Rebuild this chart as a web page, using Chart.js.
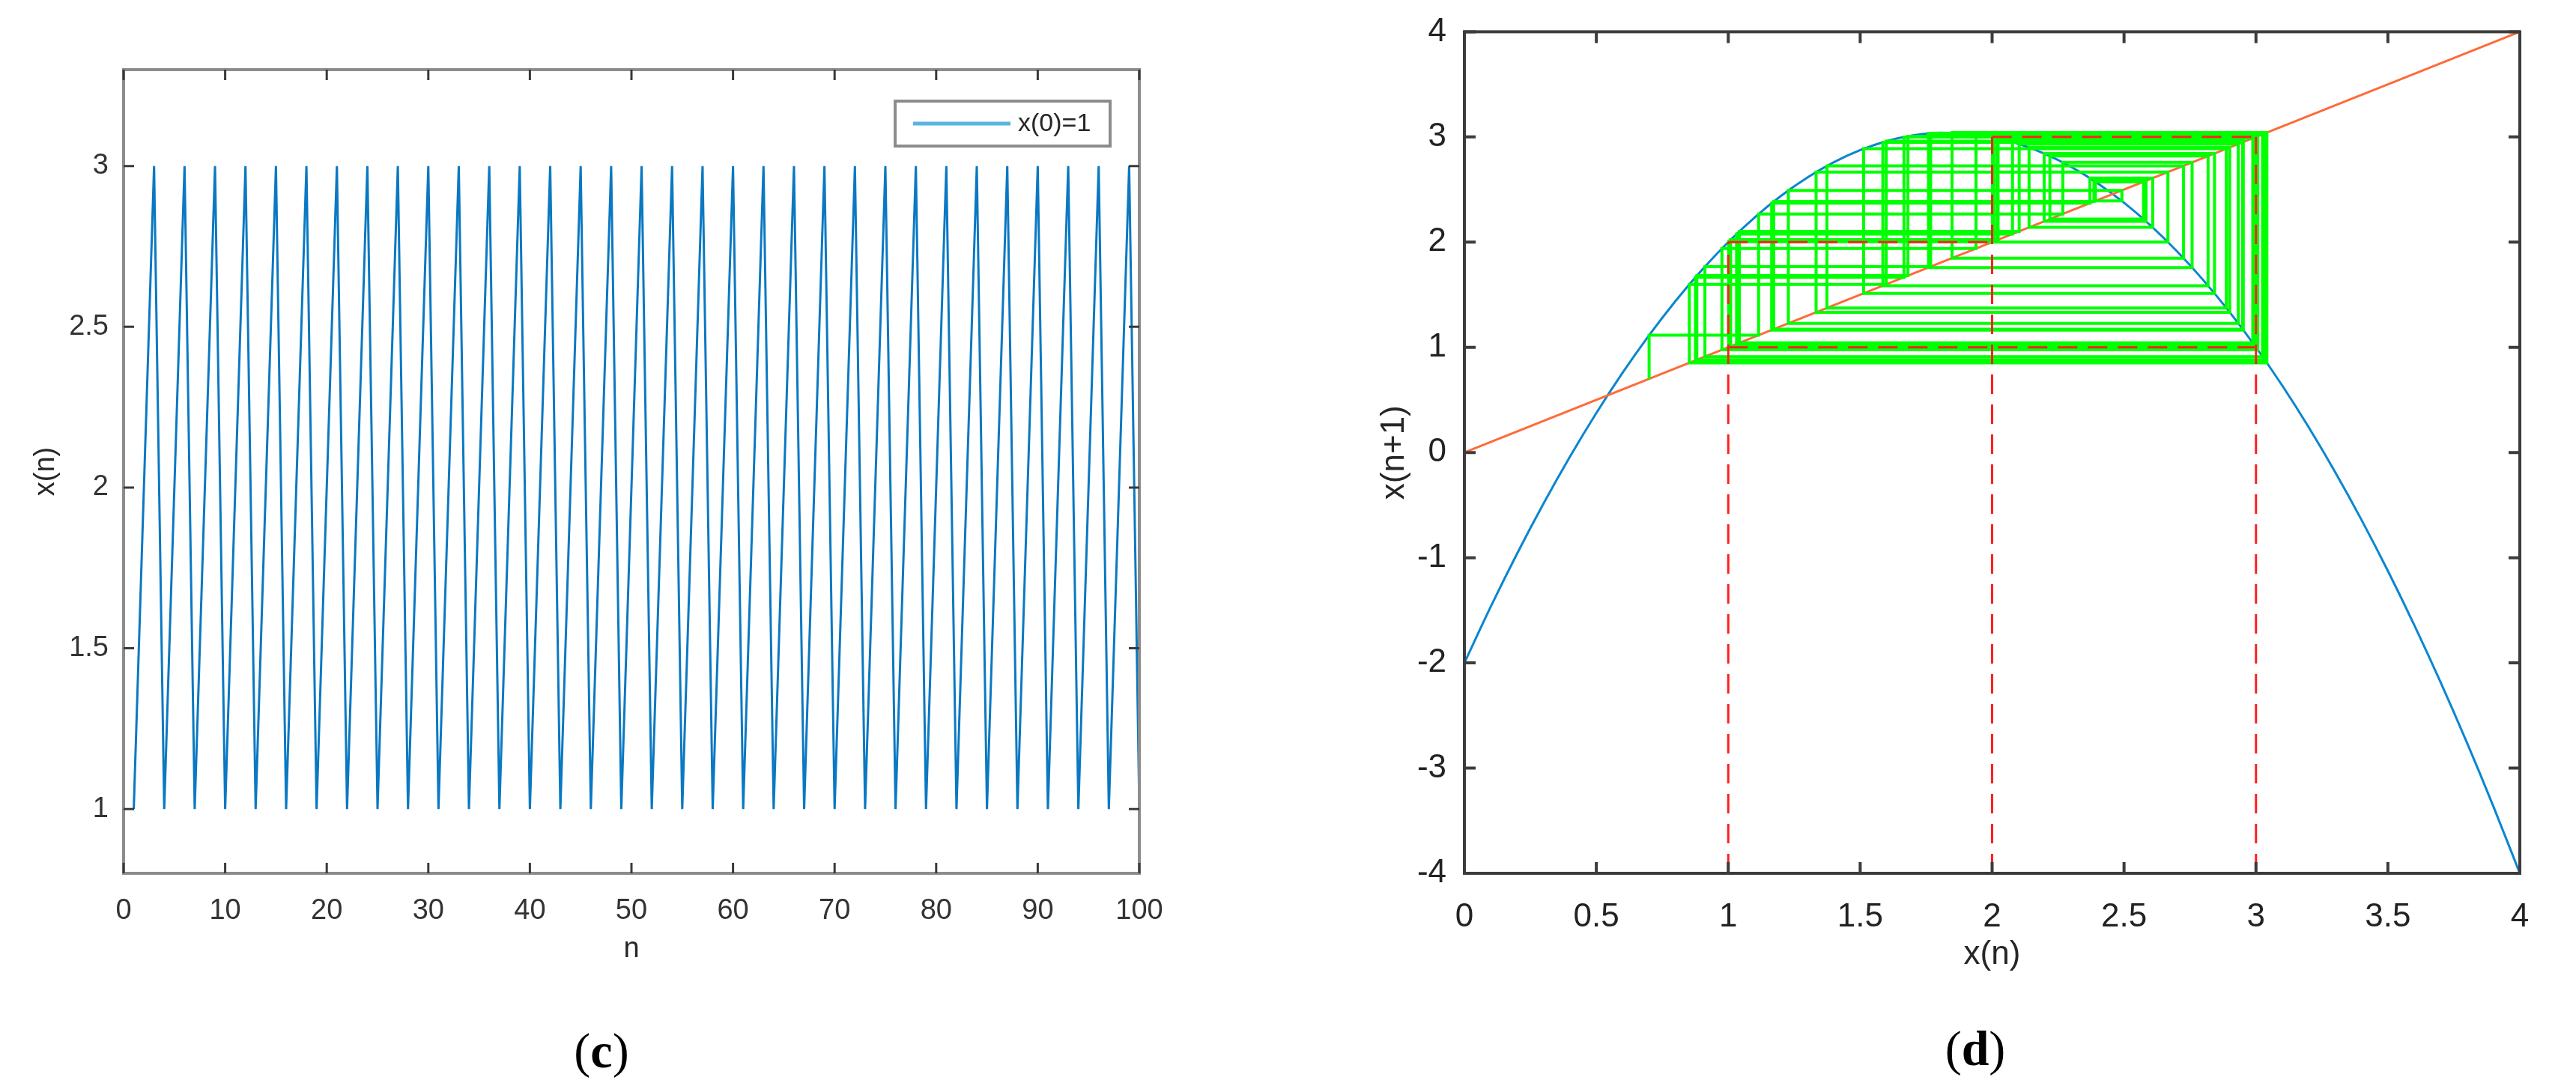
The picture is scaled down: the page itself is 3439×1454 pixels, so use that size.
<!DOCTYPE html>
<html><head><meta charset="utf-8">
<script src="https://cdn.jsdelivr.net/npm/chart.js@4/dist/chart.umd.min.js"></script>
<style>
html,body{margin:0;padding:0;background:#fff;width:3439px;height:1454px;overflow:hidden;position:relative}
canvas{position:absolute}
.cap{position:absolute;font-family:"Liberation Serif","DejaVu Serif",serif;font-size:66px;color:#000;transform:translate(-50%,-50%)}
.cap b{font-weight:bold}
</style></head><body>
<canvas id="c1" style="left:0;top:0;width:1600px;height:1300px"></canvas>
<canvas id="c2" style="left:1750px;top:0;width:1689px;height:1300px"></canvas>
<div class="cap" style="left:803px;top:1403px">(<b>c</b>)</div>
<div class="cap" style="left:2637px;top:1400px">(<b>d</b>)</div>
<script>
// ---- data ----
const seriesN = [1,2,3,4,5,6,7,8,9,10,11,12,13,14,15,16,17,18,19,20,21,22,23,24,25,26,27,28,29,30,31,32,33,34,35,36,37,38,39,40,41,42,43,44,45,46,47,48,49,50,51,52,53,54,55,56,57,58,59,60,61,62,63,64,65,66,67,68,69,70,71,72,73,74,75,76,77,78,79,80,81,82,83,84,85,86,87,88,89,90,91,92,93,94,95,96,97,98,99,100];
const seriesX = [1,2,3,1,2,3,1,2,3,1,2,3,1,2,3,1,2,3,1,2,3,1,2,3,1,2,3,1,2,3,1,2,3,1,2,3,1,2,3,1,2,3,1,2,3,1,2,3,1,2,3,1,2,3,1,2,3,1,2,3,1,2,3,1,2,3,1,2,3,1,2,3,1,2,3,1,2,3,1,2,3,1,2,3,1,2,3,1,2,3,1,2,3,1,2,3,1,2,3,1];
const leftXTicks = [0,10,20,30,40,50,60,70,80,90,100];
const leftYTicks = [1,1.5,2,2.5,3];
const legendLabel = 'x(0)=1';

const mapX = [0,0.1,0.2,0.3,0.4,0.5,0.6,0.7,0.8,0.9,1.0,1.1,1.2,1.3,1.4,1.5,1.6,1.7,1.8,1.9,2.0,2.1,2.2,2.3,2.4,2.5,2.6,2.7,2.8,2.9,3.0,3.1,3.2,3.3,3.4,3.5,3.6,3.7,3.8,3.9,4.0];
const mapY = [-2,-1.465,-0.96,-0.485,-0.04,0.375,0.76,1.115,1.44,1.735,2,2.235,2.44,2.615,2.76,2.875,2.96,3.015,3.04,3.035,3,2.935,2.84,2.715,2.56,2.375,2.16,1.915,1.64,1.335,1,0.635,0.24,-0.185,-0.64,-1.125,-1.64,-2.185,-2.76,-3.365,-4];
const diagX = [0,4];
const diagY = [0,4];
const orbit = [0.7,1.115,2.268,2.758,1.759,3.0335,0.881,1.681,3.0068,0.976,1.939,3.025,0.9115,1.767,3.035,0.8757,1.666,2.9996,1.0014,2.0035,2.998,1.007,2.0175,2.991,1.0315,2.0773,2.952,1.1645,2.3707,2.6086,2.1401,2.9006,1.333,2.6662,2.0012,2.9994,1.0021,2.0052,2.9974,1.0091,2.0227,2.9879,1.0421,2.1026,2.933,1.2278,2.4917,2.3915,2.574,2.219,2.8185,1.5858,2.9497,1.1722,2.386,2.5835,2.1973,2.8429,1.513,2.8877,1.3741,2.7253,1.848,3.0414,0.8525,1.5986,2.959];
const period3Segs = [[[1,-4],[1,2]],[[1,2],[2,2]],[[2,-4],[2,3]],[[2,3],[3,3]],[[3,-4],[3,3]],[[1,1],[3,1]]];
const rightXTicks = [0,0.5,1,1.5,2,2.5,3,3.5,4];
const rightYTicks = [-4,-3,-2,-1,0,1,2,3,4];

// ---- helpers ----
const pts = (xs, ys) => xs.map((v,i)=>({x:v,y:ys[i]}));
const cobweb = [];
orbit.forEach((v,i)=>{ if(i===0){cobweb.push({x:v,y:v});} else {cobweb.push({x:orbit[i-1],y:v}); cobweb.push({x:v,y:v});} });
const redPts = [];
period3Segs.forEach(s=>{ redPts.push({x:s[0][0],y:s[0][1]}); redPts.push({x:s[1][0],y:s[1][1]}); redPts.push({x:NaN,y:NaN}); });

const boxPlugin = {
  id:'box',
  afterDraw(chart, args, o){
    const {ctx, chartArea:a, scales:{x,y}} = chart;
    ctx.save();
    ctx.strokeStyle = o.color; ctx.lineWidth = o.width;
    ctx.strokeRect(a.left, a.top, a.right-a.left, a.bottom-a.top);
    ctx.strokeStyle = o.tickColor; ctx.lineWidth = o.tickWidth;
    ctx.beginPath();
    x.ticks.forEach(t=>{ const p=x.getPixelForValue(t.value);
      ctx.moveTo(p,a.bottom); ctx.lineTo(p,a.bottom-o.len);
      ctx.moveTo(p,a.top); ctx.lineTo(p,a.top+o.len); });
    y.ticks.forEach(t=>{ const p=y.getPixelForValue(t.value);
      ctx.moveTo(a.left,p); ctx.lineTo(a.left+o.len,p);
      ctx.moveTo(a.right,p); ctx.lineTo(a.right-o.len,p); });
    ctx.stroke();
    ctx.fillStyle = '#262626';
    ctx.font = o.titleFont;
    ctx.textAlign='center'; ctx.textBaseline='middle';
    ctx.fillText(o.xTitle, (a.left+a.right)/2, o.xTitleY);
    ctx.save(); ctx.translate(o.yTitleX,(a.top+a.bottom)/2); ctx.rotate(-Math.PI/2);
    ctx.fillText(o.yTitle,0,0); ctx.restore();
    if(o.legend){
      const L=o.legend;
      ctx.fillStyle='#fff'; ctx.fillRect(L.x,L.y,L.w,L.h);
      ctx.strokeStyle='#8c8c8c'; ctx.lineWidth=4; ctx.strokeRect(L.x,L.y,L.w,L.h);
      ctx.strokeStyle='#5ab4e0'; ctx.lineWidth=5; ctx.beginPath();
      ctx.moveTo(L.x+24,L.y+L.h/2); ctx.lineTo(L.x+154,L.y+L.h/2); ctx.stroke();
      ctx.fillStyle='#262626'; ctx.font='34px "Liberation Sans", Arial, sans-serif'; ctx.textAlign='left';
      ctx.fillText(L.text, L.x+164, L.y+L.h/2+1);
    }
    ctx.restore();
  }
};
Chart.register(boxPlugin);

const fixTicks = arr => (s)=>{ s.ticks = arr.map(v=>({value:v})); };
const fmt = v => String(v);

// ---- left chart ----
new Chart(document.getElementById('c1'), {
  type:'scatter',
  data:{datasets:[{label:legendLabel, data:pts(seriesN, seriesX), showLine:true, borderColor:'#0a78c2', borderWidth:3, pointRadius:0, tension:0}]},
  options:{
    responsive:false, animation:false, devicePixelRatio:1,
    layout:{padding:{top:93,right:79,left:0,bottom:0}},
    plugins:{legend:{display:false}, tooltip:{enabled:false},
      box:{color:'#8c8c8c', width:4, tickColor:'#3a3a3a', tickWidth:3, len:14,
        xTitle:'n', xTitleY:1268, yTitle:'x(n)', yTitleX:62, titleFont:'38px "Liberation Sans", Arial, sans-serif',
        legend:{x:1195,y:135,w:287,h:60,text:legendLabel}}},
    scales:{
      x:{type:'linear', min:0, max:100, afterBuildTicks:fixTicks(leftXTicks),
        grid:{display:false}, border:{display:false},
        ticks:{color:'#333', font:{family:'"Liberation Sans", Arial', size:38}, padding:20, maxRotation:0, callback:fmt},
        afterFit:s=>{s.height=134;}},
      y:{type:'linear', min:0.8, max:3.3, afterBuildTicks:fixTicks(leftYTicks),
        grid:{display:false}, border:{display:false},
        ticks:{color:'#333', font:{family:'"Liberation Sans", Arial', size:38}, padding:12, callback:fmt},
        afterFit:s=>{s.width=165;}}
    }
  }
});

// ---- right chart ----
new Chart(document.getElementById('c2'), {
  type:'scatter',
  data:{datasets:[
    {label:'red', data:redPts, showLine:true, spanGaps:false, borderColor:'#ff1f1f', borderWidth:3, borderDash:[26,14], pointRadius:0, order:0},
    {label:'cobweb', data:cobweb, showLine:true, borderColor:'#00ff00', borderWidth:4, pointRadius:0, order:1},
    {label:'diag', data:pts(diagX,diagY), showLine:true, borderColor:'#ff6a3a', borderWidth:3, pointRadius:0, order:2},
    {label:'map', data:pts(mapX,mapY), showLine:true, borderColor:'#0a86d0', borderWidth:3, pointRadius:0, tension:0.4, cubicInterpolationMode:'monotone', order:3}
  ]},
  options:{
    responsive:false, animation:false, devicePixelRatio:1,
    layout:{padding:{top:38,right:75,left:0,bottom:0}},
    plugins:{legend:{display:false}, tooltip:{enabled:false},
      box:{color:'#3c3c3c', width:4, tickColor:'#3c3c3c', tickWidth:4, len:15,
        xTitle:'x(n)', xTitleY:1275, yTitle:'x(n+1)', yTitleX:112, titleFont:'44px "Liberation Sans", Arial, sans-serif'}},
    scales:{
      x:{type:'linear', min:0, max:4, afterBuildTicks:fixTicks(rightXTicks),
        grid:{display:false}, border:{display:false},
        ticks:{color:'#222', font:{family:'"Liberation Sans", Arial', size:44}, padding:24, maxRotation:0, callback:fmt},
        afterFit:s=>{s.height=134;}},
      y:{type:'linear', min:-4, max:4, afterBuildTicks:fixTicks(rightYTicks),
        grid:{display:false}, border:{display:false},
        ticks:{color:'#222', font:{family:'"Liberation Sans", Arial', size:44}, padding:16, callback:fmt},
        afterFit:s=>{s.width=205;}}
    }
  }
});
</script>
</body></html>
